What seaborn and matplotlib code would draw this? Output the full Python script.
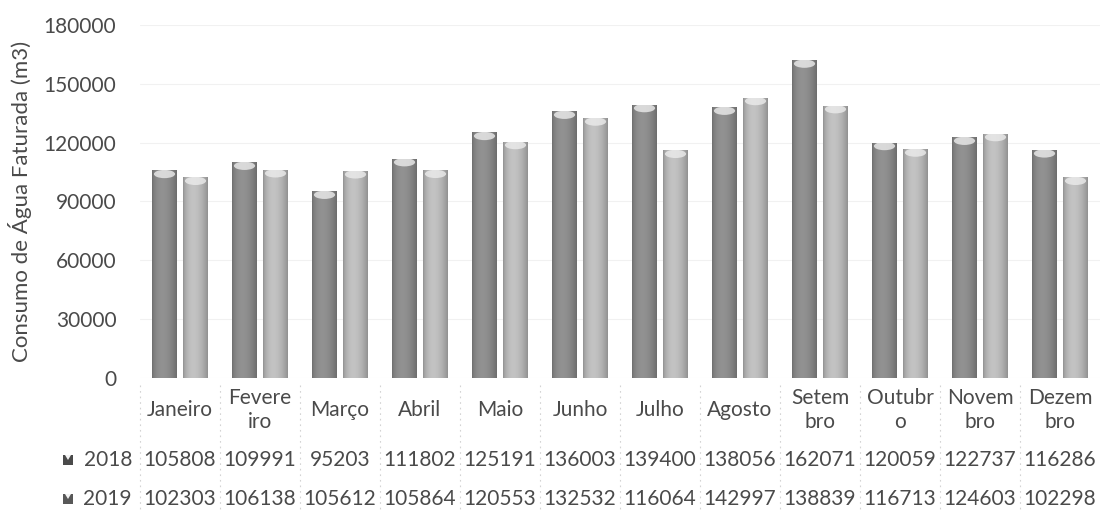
import numpy as np
import pandas as pd
import seaborn as sns
import matplotlib
matplotlib.use("Agg")
import matplotlib.pyplot as plt
import matplotlib.transforms as mtransforms
import matplotlib.colors as mcolors
from matplotlib.patches import Ellipse, Rectangle, Polygon

# ---- data -------------------------------------------------------------
months = ["Janeiro", "Fevereiro", "Março", "Abril", "Maio", "Junho",
          "Julho", "Agosto", "Setembro", "Outubro", "Novembro", "Dezembro"]
month_labels = ["Janeiro", "Fevere\niro", "Março", "Abril", "Maio", "Junho",
                "Julho", "Agosto", "Setem\nbro", "Outubr\no", "Novem\nbro",
                "Dezem\nbro"]
years = ["2018", "2019"]
consumo_2018 = [105808, 109991, 95203, 111802, 125191, 136003,
                139400, 138056, 162071, 120059, 122737, 116286]
consumo_2019 = [102303, 106138, 105612, 105864, 120553, 132532,
                116064, 142997, 138839, 116713, 124603, 102298]
y_ticks = [0, 30000, 60000, 90000, 120000, 150000, 180000]

df = pd.DataFrame({
    "Mês": months * 2,
    "Ano": [years[0]] * 12 + [years[1]] * 12,
    "Consumo": consumo_2018 + consumo_2019,
})

# ---- style ------------------------------------------------------------
sns.set_theme(style="white")
plt.rcParams["font.family"] = ["Lato", "DejaVu Sans"]
text_color = "#4a4a4a"
colors = {"2018": "#878787", "2019": "#b4b4b4"}

W, H = 1102, 513
fig = plt.figure(figsize=(W / 100, H / 100), dpi=100)
ax = fig.add_axes([140 / W, 1 - 378 / H, 960 / W, (378 - 25) / H])

sns.barplot(data=df, x="Mês", y="Consumo", hue="Ano", order=months,
            hue_order=years, palette=colors, width=0.775, saturation=1,
            legend=False, ax=ax)

# cylinder-style shading on each bar
bar_w = 0.3125
prof_t = np.linspace(0, 1, 64)
profile = 0.80 + 0.28 * np.clip(np.sin(np.pi * prof_t ** 0.8), 0, 1) ** 0.8
for patch in list(ax.patches):
    x, w, h = patch.get_x(), patch.get_width(), patch.get_height()
    cx = x + w / 2
    patch.set_x(cx - bar_w / 2)
    patch.set_width(bar_w)
    patch.set_edgecolor("none")
    base = np.array(mcolors.to_rgb(patch.get_facecolor()))
    grad = np.clip(base[None, :] * profile[:, None], 0, 1)[None, :, :]
    im = ax.imshow(grad, extent=[cx - bar_w / 2, cx + bar_w / 2, 0, h],
                   aspect="auto", zorder=patch.get_zorder() + 0.1,
                   interpolation="bilinear")
    im.set_clip_path(patch)
    # soft rim on the top of each cylinder
    cap = Ellipse((cx, h - 1800), bar_w * 0.85, 4200,
                  facecolor="#ececec", edgecolor="none", alpha=0.8,
                  zorder=patch.get_zorder() + 0.2)
    ax.add_patch(cap)
    cap.set_clip_path(patch)

ax.set_xlim(-0.5, 11.5)
ax.set_ylim(0, 180000)
ax.set_yticks(y_ticks)
ax.set_yticklabels([str(v) for v in y_ticks])
ax.set_xticks([])
ax.set_xlabel("")
ax.set_axisbelow(True)
ax.yaxis.grid(True, color="#f1f1f1", linewidth=0.8)
for s in ax.spines.values():
    s.set_visible(False)
ax.tick_params(axis="y", length=0, pad=17, labelsize=15, labelcolor=text_color)
ax.set_ylabel("Consumo de Água Faturada (m3)", fontsize=16, color=text_color)
ax.yaxis.set_label_coords(-0.112, 0.5)

# ---- data table under the axis ---------------------------------------
trans = mtransforms.blended_transform_factory(ax.transData, fig.transFigure)
row_month = 1 - 410 / H
row_2018 = 1 - 460 / H
row_2019 = 1 - 499 / H

for i, lab in enumerate(month_labels):
    ax.text(i, row_month, lab, transform=trans, ha="center", va="center",
            fontsize=15, color=text_color, linespacing=1.3, clip_on=False)
    ax.text(i, row_2018, str(consumo_2018[i]), transform=trans, ha="center",
            va="center", fontsize=15, color=text_color, clip_on=False)
    ax.text(i, row_2019, str(consumo_2019[i]), transform=trans, ha="center",
            va="center", fontsize=15, color=text_color, clip_on=False)

# faint dotted cell borders
for i in range(12):
    ax.plot([i - 0.5, i - 0.5], [1 - 385 / H, 0.0], transform=trans,
            color="#d3d3d3", linestyle=(0, (1.5, 3.5)), linewidth=0.8,
            clip_on=False)

# legend keys and series names
for name, yrow, key_col in [("2018", row_2018, "#4a4a4a"),
                            ("2019", row_2019, "#585858")]:
    kx, ky, ks = 63 / W, yrow - 5 / H, 10
    fig.patches.append(Rectangle((kx, ky), ks / W, ks / H,
                                 transform=fig.transFigure,
                                 facecolor=key_col, edgecolor="none"))
    fig.patches.append(Polygon([(kx + 2 / W, ky + ks / H),
                                (kx + (ks - 2) / W, ky + ks / H),
                                (kx + ks / 2 / W, ky + (ks - 5) / H)],
                               closed=True, transform=fig.transFigure,
                               facecolor="#f4f4f4", edgecolor="none"))
    fig.text(132 / W, yrow, name, ha="right", va="center", fontsize=15,
             color=text_color)

fig.savefig("out.png", dpi=100)
